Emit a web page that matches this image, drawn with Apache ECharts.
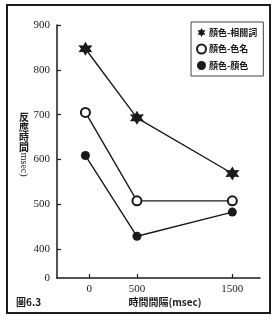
<!DOCTYPE html>
<html><head><meta charset="utf-8">
<script src="https://cdn.jsdelivr.net/npm/echarts@6/dist/echarts.min.js"></script>
<style>html,body{margin:0;padding:0;background:#fff}#c{width:278px;height:323px}</style>
</head><body><div id="c"></div>
<script>
// Data
var xPositions = [-40, 500, 1500];          // plotted x positions (points sit just left of the 0 tick)
var xTickValues = [0, 500, 1500];
var yTickValues = [400, 500, 600, 700, 800, 900];
var seriesNames = ['顏色-相關詞', '顏色-色名', '顏色-顏色'];
var relatedWord = [847, 693, 569];
var colorName = [705, 508, 508];
var colorColor = [609, 429, 483];

var STAR = 'path://M10,0 L12.75,5.24 L18.66,5 L15.5,10 L18.66,15 L12.75,14.76 L10,20 L7.25,14.76 L1.34,15 L4.5,10 L1.34,5 L7.25,5.24 Z';
var Y_MIN = 336;
function pairs(ys){ return ys.map(function(v,i){ return [xPositions[i], v]; }); }
var ink = '#1a1a1a';
var serif = '"Liberation Serif","DejaVu Serif",serif';
var cjk = '"Noto Sans CJK TC","Noto Sans CJK SC",sans-serif';

var chart = echarts.init(document.getElementById('c'), null, {renderer:'canvas'});
chart.setOption({
  animation: false,
  backgroundColor: '#fff',
  grid: {left: 57, top: 25, right: 18, bottom: 45, containLabel: false},
  xAxis: {
    type: 'value', min: -338, max: 1790,
    splitLine: {show: false},
    axisLine: {onZero: false, lineStyle: {color: ink, width: 1.5}},
    axisTick: {inside: true, length: 4, lineStyle: {color: ink, width: 1.2}, customValues: xTickValues},
    axisLabel: {customValues: xTickValues, margin: 6, color: ink, fontFamily: serif, fontSize: 11,
      formatter: function(v){ return String(v); }}
  },
  yAxis: {
    type: 'value', min: Y_MIN, max: 900,
    splitLine: {show: false},
    axisLine: {show: true, onZero: false, lineStyle: {color: ink, width: 1.5}},
    axisTick: {show: true, inside: true, length: 4, lineStyle: {color: ink, width: 1.2}, customValues: yTickValues},
    axisLabel: {customValues: [Y_MIN].concat(yTickValues), margin: 7, color: ink, fontFamily: serif, fontSize: 11,
      formatter: function(v){ return v === Y_MIN ? '0' : String(v); }}
  },
  legend: {
    orient: 'vertical', left: 191, top: 22,
    width: 60,
    padding: [6, 6, 6, 5],
    itemGap: 6.5, itemWidth: 9, itemHeight: 9,
    backgroundColor: '#fff', borderColor: '#444', borderWidth: 1,
    textStyle: {fontFamily: cjk, fontSize: 9, fontWeight: 'bold', color: ink, padding: [0,0,0,-2]},
    data: [
      {name: seriesNames[0], icon: STAR},
      {name: seriesNames[1], icon: 'circle'},
      {name: seriesNames[2], icon: 'circle'}
    ]
  },
  series: [
    {name: seriesNames[0], type: 'line', data: pairs(relatedWord), symbol: STAR, symbolSize: 14,
     lineStyle: {color: ink, width: 1.4}, itemStyle: {color: ink}},
    {name: seriesNames[1], type: 'line', data: pairs(colorName), symbol: 'circle', symbolSize: 9,
     lineStyle: {color: ink, width: 1.4}, itemStyle: {color: '#fff', borderColor: ink, borderWidth: 2}},
    {name: seriesNames[2], type: 'line', data: pairs(colorColor), symbol: 'circle', symbolSize: 9,
     lineStyle: {color: ink, width: 1.4}, itemStyle: {color: ink}}
  ],
  graphic: [
    {type: 'rect', shape: {x: 7, y: 5, width: 263, height: 308}, style: {fill: 'none', stroke: ink, lineWidth: 2}, z: 100},
    {type: 'text', x: 24, y: 112, style: {text: '反\n應\n時\n間', font: 'bold 10px ' + cjk, fill: ink, align: 'center', verticalAlign: 'top', lineHeight: 10}},
    {type: 'text', x: 24, y: 163, rotation: -Math.PI/2, style: {text: '(msec)', font: '10px ' + serif, fill: ink, align: 'center', verticalAlign: 'middle'}},
    {type: 'text', x: 165, y: 302, style: {text: '時間間隔(msec)', font: 'bold 10px ' + cjk, fill: ink, align: 'center', verticalAlign: 'middle'}},
    {type: 'text', x: 16, y: 302, style: {text: '圖6.3', font: 'bold 10px ' + cjk, fill: ink, align: 'left', verticalAlign: 'middle'}}
  ]
});
</script></body></html>
